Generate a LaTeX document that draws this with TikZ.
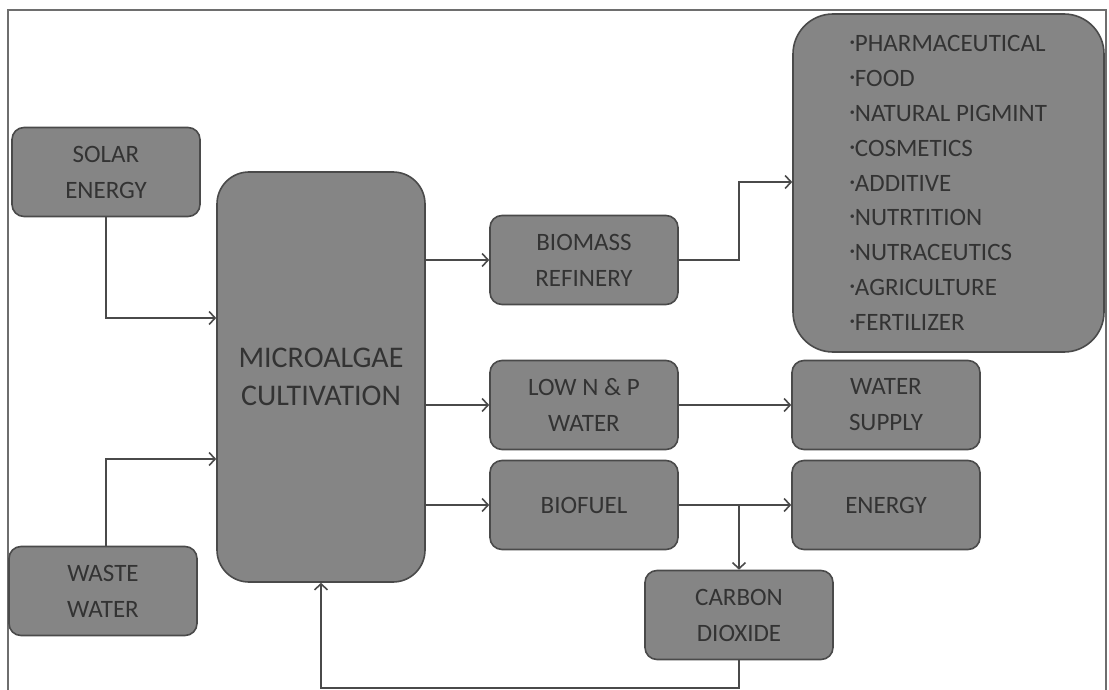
\documentclass[tikz,border=0pt]{standalone}
\usepackage{fontspec}
\setmainfont{Carlito}
\usepackage{tikz}
\usetikzlibrary{arrows.meta}
\usepackage{xcolor}
\definecolor{box-fill}{HTML}{858585}
\definecolor{box-line}{HTML}{4A4A4A}
\definecolor{box-text}{HTML}{333333}
\tikzset{
    rounded-box/.style = {draw=box-line, fill=box-fill, line width=1.6pt, rectangle, rounded corners=12pt, text=box-text, align=center, minimum width=188pt, minimum height=89pt, font=\fontsize{25}{36}\selectfont},
    big-box/.style = {rounded-box, rounded corners=32pt, minimum width=208pt, minimum height=410pt, font=\fontsize{30}{38}\selectfont},
    list-box/.style = {rounded-box, rounded corners=40pt, minimum width=311pt, minimum height=338pt, align=left, font=\fontsize{25}{34.8}\selectfont},
    flow/.style = {draw=box-line, line width=1.6pt, -{Straight Barb[length=6pt,width=13pt]}},
}
\newcommand{\itm}{{\fontsize{10}{10}\selectfont\raisebox{6pt}{•}}}

\begin{document}
\begin{tikzpicture}[x=1pt,y=-1pt]
\useasboundingbox (0,0) rectangle (1109,690);
\draw [box-line!80, line width=1.2pt] (8,690) -- (8,10) -- (1106,10) -- (1106,690);
\node [rounded-box] (solar) at (106,172) {SOLAR\\ENERGY};
\node [rounded-box] (waste) at (103,591) {WASTE\\WATER};
\node [big-box] (algae) at (321,377) {MICROALGAE\\CULTIVATION};
\node [rounded-box] (biomass) at (584,260) {BIOMASS\\REFINERY};
\node [rounded-box] (lownp) at (584,405) {LOW N \& P\\WATER};
\node [rounded-box] (biofuel) at (584,505) {BIOFUEL};
\node [list-box] (products) at (948.5,183) {\itm PHARMACEUTICAL\\\itm FOOD\\\itm NATURAL PIGMINT\\\itm COSMETICS\\\itm ADDITIVE\\\itm NUTRTITION\\\itm NUTRACEUTICS\\\itm AGRICULTURE\\\itm FERTILIZER};
\node [rounded-box] (supply) at (886,405) {WATER\\SUPPLY};
\node [rounded-box] (energy) at (886,505) {ENERGY};
\node [rounded-box] (carbon) at (739,615) {CARBON\\DIOXIDE};
\coordinate (split) at (739,505);
\coordinate (loop) at (739,688);
% inputs
\draw [flow] (solar.south) |- (algae.west |- 0,318);
\draw [flow] (waste.north -| solar.south) |- (algae.west |- 0,459);
% outputs
\draw [flow] (algae.east |- biomass.west) -- (biomass.west);
\draw [flow] (algae.east |- lownp.west) -- (lownp.west);
\draw [flow] (algae.east |- biofuel.west) -- (biofuel.west);
\draw [flow] (biomass.east) -- ++(60,0) |- (products.west |- 0,182);
\draw [flow] (lownp.east) -- (supply.west);
\draw [flow] (biofuel.east) -- (energy.west);
\draw [flow] (split) -- (carbon.north);
% feedback
\draw [flow] (carbon.south) -- (loop) -| (algae.south);
\end{tikzpicture}
\end{document}
